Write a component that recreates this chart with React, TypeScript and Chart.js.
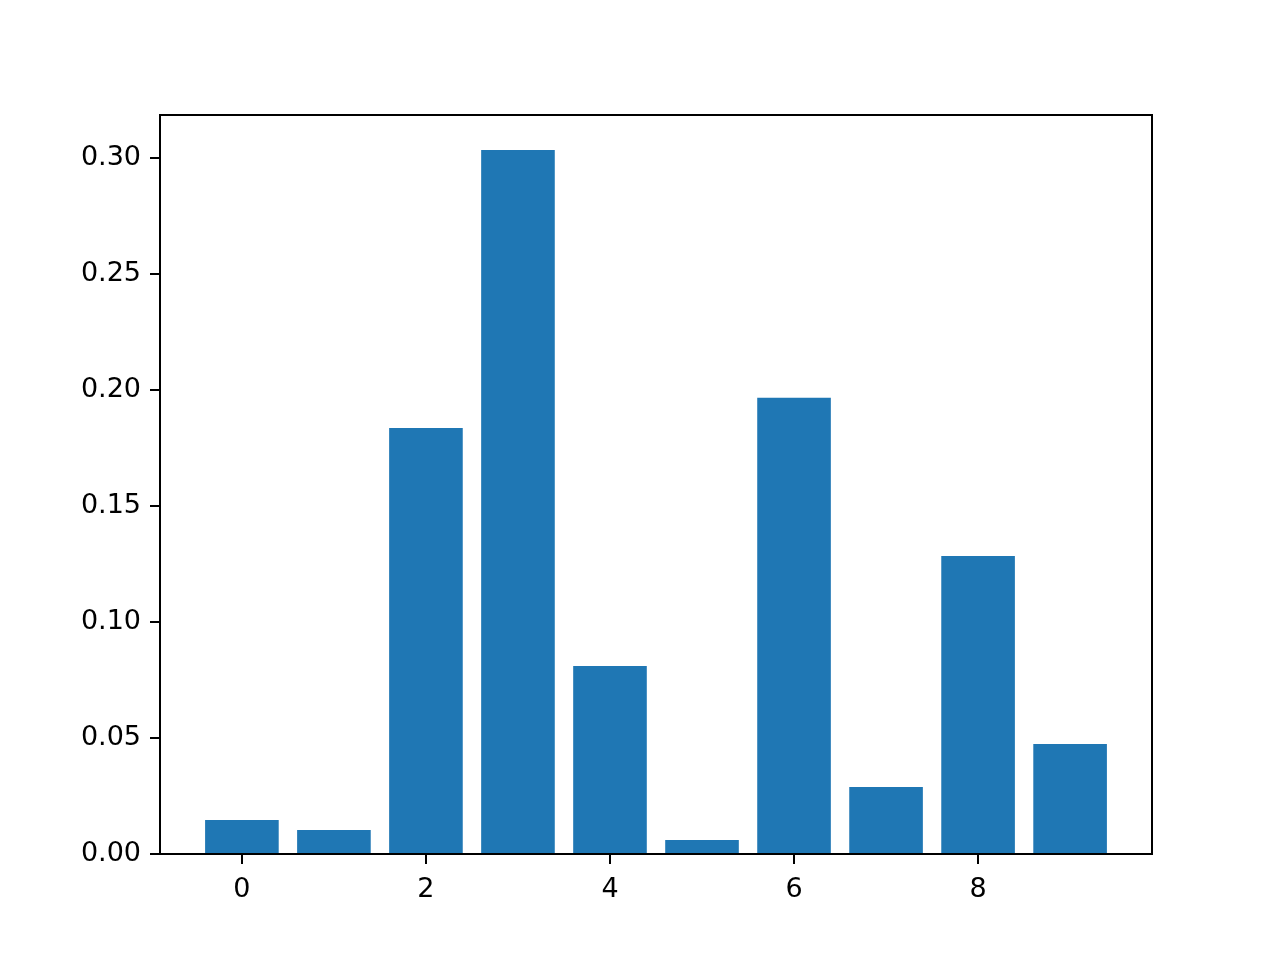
import React, { useEffect, useRef } from "react";
import { Chart, registerables } from "chart.js";

Chart.register(...registerables);

const categories = [0, 1, 2, 3, 4, 5, 6, 7, 8, 9];
const values = [0.0147, 0.0103, 0.1836, 0.3034, 0.081, 0.006, 0.1966, 0.0289, 0.1284, 0.0474];
const xTicks = [0, 2, 4, 6, 8];
const yTicks = [0, 0.05, 0.1, 0.15, 0.2, 0.25, 0.3];

const frame = {
  id: "frame",
  afterDraw(chart: any) {
    const { ctx, chartArea } = chart;
    ctx.save();
    ctx.strokeStyle = "#000";
    ctx.lineWidth = 2;
    ctx.strokeRect(chartArea.left, chartArea.top, chartArea.right - chartArea.left, chartArea.bottom - chartArea.top);
    ctx.restore();
  },
};

export default function App() {
  const ref = useRef<HTMLCanvasElement | null>(null);
  useEffect(() => {
    if (!ref.current) return;
    const font = { family: "DejaVu Sans", size: 27 };
    const chart = new Chart(ref.current, {
      type: "bar",
      data: {
        datasets: [
          {
            data: categories.map((c, i) => ({ x: c, y: values[i] })),
            backgroundColor: "#1f77b4",
            borderWidth: 0,
            barPercentage: 0.8,
            categoryPercentage: 1,
          },
        ],
      },
      plugins: [frame],
      options: {
        responsive: false,
        animation: false,
        layout: { padding: { left: 0, top: 115, right: 128, bottom: 0 } },
        plugins: { legend: { display: false }, tooltip: { enabled: false } },
        scales: {
          x: {
            type: "linear",
            min: -0.89,
            max: 9.89,
            offset: false,
            afterFit: (s: any) => { s.height = 106; },
            afterBuildTicks: (s: any) => { s.ticks = xTicks.map((v) => ({ value: v })); },
            ticks: { font, color: "#000", padding: 10, callback: (v: any) => String(v), maxRotation: 0, autoSkip: false },
            grid: { display: true, offset: false, drawOnChartArea: false, drawTicks: true, tickLength: 10, color: "#000", lineWidth: 2 },
            border: { display: true, color: "#000", width: 2 },
          },
          y: {
            type: "linear",
            min: 0,
            max: 0.3185,
            afterFit: (s: any) => { s.width = 160; },
            afterBuildTicks: (s: any) => { s.ticks = yTicks.map((v) => ({ value: v })); },
            ticks: { font, color: "#000", padding: 9, callback: (v: any) => Number(v).toFixed(2), autoSkip: false },
            grid: { display: true, offset: false, drawOnChartArea: false, drawTicks: true, tickLength: 10, color: "#000", lineWidth: 2 },
            border: { display: true, color: "#000", width: 2 },
          },
        },
      },
    } as any);
    return () => chart.destroy();
  }, []);
  return (
    <div style={{ position: "absolute", left: 0, top: 0, width: 1280, height: 960, background: "#fff" }}>
      <canvas ref={ref} width={1280} height={960} style={{ width: 1280, height: 960 }} />
    </div>
  );
}
